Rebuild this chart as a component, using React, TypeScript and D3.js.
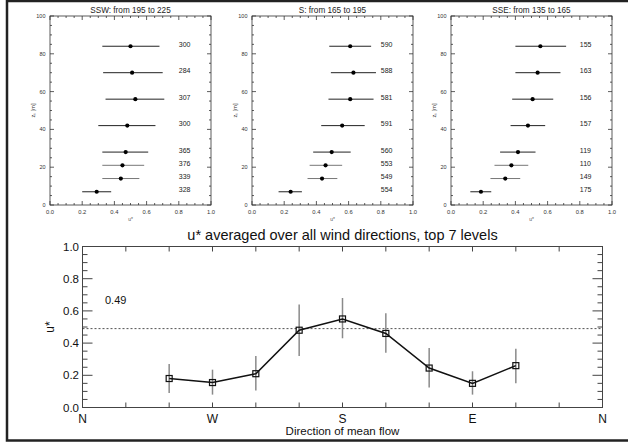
import * as d3 from "d3";
import { useEffect, useRef } from "react";

// measurement heights (m), same for the three sector panels
const heights = [84, 70, 56, 42, 28, 21, 14, 7];

const panelTitles = ["SSW: from 195 to 225", "S: from 165 to 195", "SSE: from 135 to 165"];

const sswMean = [0.5, 0.51, 0.53, 0.48, 0.47, 0.45, 0.44, 0.29];
const sswLow = [0.325, 0.33, 0.345, 0.3, 0.325, 0.325, 0.325, 0.2];
const sswHigh = [0.68, 0.7, 0.71, 0.655, 0.61, 0.585, 0.555, 0.38];
const sswCount = [300, 284, 307, 300, 365, 376, 339, 328];

const sMean = [0.61, 0.63, 0.61, 0.56, 0.495, 0.457, 0.435, 0.24];
const sLow = [0.48, 0.49, 0.475, 0.43, 0.38, 0.358, 0.345, 0.165];
const sHigh = [0.74, 0.77, 0.755, 0.7, 0.613, 0.56, 0.53, 0.31];
const sCount = [590, 588, 581, 591, 560, 553, 549, 554];

const sseMean = [0.555, 0.538, 0.507, 0.478, 0.416, 0.375, 0.337, 0.186];
const sseLow = [0.4, 0.4, 0.38, 0.37, 0.305, 0.27, 0.245, 0.12];
const sseHigh = [0.715, 0.68, 0.635, 0.585, 0.525, 0.48, 0.43, 0.25];
const sseCount = [155, 163, 156, 157, 119, 110, 149, 175];

// bottom chart: direction of mean flow (deg) and u*
const flowDir = [300, 270, 240, 210, 180, 150, 120, 90, 60];
const uMean = [0.18, 0.155, 0.21, 0.48, 0.55, 0.46, 0.245, 0.15, 0.26];
const uLow = [0.09, 0.08, 0.105, 0.32, 0.43, 0.34, 0.125, 0.08, 0.15];
const uHigh = [0.27, 0.235, 0.32, 0.64, 0.68, 0.585, 0.37, 0.225, 0.365];
const uAll = 0.49;
const dirTicks = [360, 330, 300, 270, 240, 210, 180, 150, 120, 90, 60, 30, 0];
const dirLabels = { 360: "N", 270: "W", 180: "S", 90: "E", 0: "N" };

const W = 628;
const H = 442;
const FONT = "'Liberation Sans', Arial, Helvetica, sans-serif";

// draws inward ticks on all four sides of a box
function boxTicks(g, x, y, o) {
  const [x0, x1] = x.range();
  const [y0, y1] = y.range();
  const majX = o.xMajor, minX = o.xMinor, majY = o.yMajor, minY = o.yMinor;
  const lines = [];
  minX.forEach((v) => {
    const len = majX.includes(v) ? o.xLen : o.xLen2;
    lines.push([x(v), y0, x(v), y0 - len]);
    lines.push([x(v), y1, x(v), y1 + len]);
  });
  minY.forEach((v) => {
    const len = majY.includes(v) ? o.yLen : o.yLen2;
    lines.push([x0, y(v), x0 + len, y(v)]);
    lines.push([x1, y(v), x1 - len, y(v)]);
  });
  g.append("g")
    .selectAll("line")
    .data(lines)
    .join("line")
    .attr("x1", (d) => d[0])
    .attr("y1", (d) => d[1])
    .attr("x2", (d) => d[2])
    .attr("y2", (d) => d[3])
    .attr("stroke", o.color)
    .attr("stroke-width", o.width);
  g.append("rect")
    .attr("x", x0)
    .attr("y", y1)
    .attr("width", x1 - x0)
    .attr("height", y0 - y1)
    .attr("fill", "none")
    .attr("stroke", o.color)
    .attr("stroke-width", o.width);
}

function App() {
  const ref = useRef(null);

  useEffect(() => {
    const svg = d3.select(ref.current);
    svg.selectAll("*").remove();
    svg.attr("font-family", FONT);

    svg.append("rect").attr("width", W).attr("height", H).attr("fill", "#fff");
    svg
      .append("rect")
      .attr("x", 7)
      .attr("y", 1)
      .attr("width", 660)
      .attr("height", 439.5)
      .attr("fill", "none")
      .attr("stroke", "#222")
      .attr("stroke-width", 2.5);

    // ---------- top panels ----------
    const panels = [
      { mean: sswMean, low: sswLow, high: sswHigh, count: sswCount },
      { mean: sMean, low: sLow, high: sHigh, count: sCount },
      { mean: sseMean, low: sseLow, high: sseHigh, count: sseCount },
    ];
    const panelLeft = [50, 252, 451];
    const pw = 161;

    panels.forEach((p, k) => {
      const g = svg.append("g");
      const x = d3.scaleLinear().domain([0, 1]).range([panelLeft[k], panelLeft[k] + pw]);
      const y = d3.scaleLinear().domain([0, 100]).range([205, 16]);

      boxTicks(g, x, y, {
        xMajor: d3.range(0, 1.01, 0.2).map((v) => +v.toFixed(2)),
        xMinor: d3.range(0, 1.01, 0.05).map((v) => +v.toFixed(2)),
        yMajor: d3.range(0, 101, 20),
        yMinor: d3.range(0, 101, 5),
        xLen: 4,
        xLen2: 2,
        yLen: 4,
        yLen2: 2,
        color: "#333",
        width: 0.8,
      });

      g.append("g")
        .selectAll("text")
        .data(d3.range(0, 1.01, 0.2))
        .join("text")
        .attr("x", (d) => x(d))
        .attr("y", 213.5)
        .attr("text-anchor", "middle")
        .attr("font-size", 5.8)
        .attr("fill", "#333")
        .text((d) => d3.format(".1f")(d));

      g.append("g")
        .selectAll("text")
        .data(d3.range(0, 101, 20))
        .join("text")
        .attr("x", x(0) - 4.5)
        .attr("y", (d) => y(d) + 2)
        .attr("text-anchor", "end")
        .attr("font-size", 5.5)
        .attr("fill", "#333")
        .text((d) => d);

      g.append("text")
        .attr("x", (x(0) + x(1)) / 2)
        .attr("y", 13)
        .attr("text-anchor", "middle")
        .attr("font-size", 8.2)
        .attr("fill", "#222")
        .text(panelTitles[k]);

      g.append("text")
        .attr("transform", `translate(${x(0) - 15},${(y(0) + y(100)) / 2}) rotate(-90)`)
        .attr("text-anchor", "middle")
        .attr("font-size", 5.5)
        .attr("fill", "#333")
        .text("z\u209b [m]");

      g.append("text")
        .attr("x", (x(0) + x(1)) / 2)
        .attr("y", 221)
        .attr("text-anchor", "middle")
        .attr("font-size", 5)
        .attr("fill", "#555")
        .text("u*");

      g.append("g")
        .selectAll("line")
        .data(heights)
        .join("line")
        .attr("x1", (d, i) => x(p.low[i]))
        .attr("x2", (d, i) => x(p.high[i]))
        .attr("y1", (d) => y(d))
        .attr("y2", (d) => y(d))
        .attr("stroke", (d, i) => (i === 5 || i === 6 ? "#777" : "#222"))
        .attr("stroke-width", 1);

      g.append("g")
        .selectAll("circle")
        .data(heights)
        .join("circle")
        .attr("cx", (d, i) => x(p.mean[i]))
        .attr("cy", (d) => y(d))
        .attr("r", 2.1)
        .attr("fill", "#000");

      g.append("g")
        .selectAll("text")
        .data(heights)
        .join("text")
        .attr("x", x(0.8))
        .attr("y", (d) => y(d) + 0.5)
        .attr("font-size", 7)
        .attr("fill", "#222")
        .text((d, i) => p.count[i]);
    });

    // ---------- bottom chart ----------
    const x = d3.scaleLinear().domain([360, 0]).range([82.5, 602.5]);
    const y = d3.scaleLinear().domain([0, 1]).range([407.5, 246.5]);
    const g = svg.append("g");

    boxTicks(g, x, y, {
      xMajor: dirTicks,
      xMinor: dirTicks,
      yMajor: d3.range(0, 1.01, 0.2).map((v) => +v.toFixed(2)),
      yMinor: d3.range(0, 1.01, 0.05).map((v) => +v.toFixed(2)),
      xLen: 5,
      xLen2: 5,
      yLen: 10,
      yLen2: 5,
      color: "#444",
      width: 1,
    });

    g.append("g")
      .selectAll("text")
      .data(d3.range(0, 1.01, 0.2))
      .join("text")
      .attr("x", x(360) - 3.5)
      .attr("y", (d) => y(d) + 4)
      .attr("text-anchor", "end")
      .attr("font-size", 11.5)
      .attr("fill", "#111")
      .text((d) => d3.format(".1f")(d));

    g.append("g")
      .selectAll("text")
      .data(dirTicks.filter((d) => dirLabels[d]))
      .join("text")
      .attr("x", (d) => x(d))
      .attr("y", 422.6)
      .attr("text-anchor", "middle")
      .attr("font-size", 12)
      .attr("fill", "#111")
      .text((d) => dirLabels[d]);

    g.append("text")
      .attr("x", (x(360) + x(0)) / 2)
      .attr("y", 435)
      .attr("text-anchor", "middle")
      .attr("font-size", 11.5)
      .attr("fill", "#111")
      .text("Direction of mean flow");

    g.append("text")
      .attr("x", (x(360) + x(0)) / 2)
      .attr("y", 239.5)
      .attr("text-anchor", "middle")
      .attr("font-size", 14.5)
      .attr("fill", "#111")
      .text("u* averaged over all wind directions, top 7 levels");

    g.append("text")
      .attr("transform", `translate(54,${(y(0) + y(1)) / 2}) rotate(-90)`)
      .attr("text-anchor", "middle")
      .attr("font-size", 12)
      .attr("fill", "#111")
      .text("u*");

    g.append("line")
      .attr("x1", x(360))
      .attr("x2", x(0))
      .attr("y1", y(uAll))
      .attr("y2", y(uAll))
      .attr("stroke", "#222")
      .attr("stroke-width", 0.8)
      .attr("stroke-dasharray", "2,2");

    g.append("text")
      .attr("x", 105)
      .attr("y", 303.5)
      .attr("font-size", 11)
      .attr("fill", "#111")
      .text(d3.format(".2f")(uAll));

    g.append("g")
      .selectAll("line")
      .data(flowDir)
      .join("line")
      .attr("x1", (d) => x(d))
      .attr("x2", (d) => x(d))
      .attr("y1", (d, i) => y(uLow[i]))
      .attr("y2", (d, i) => y(uHigh[i]))
      .attr("stroke", "#8a8a8a")
      .attr("stroke-width", 1.5);

    const line = d3
      .line()
      .x((d, i) => x(flowDir[i]))
      .y((d) => y(d));

    g.append("path")
      .datum(uMean)
      .attr("d", line)
      .attr("fill", "none")
      .attr("stroke", "#111")
      .attr("stroke-width", 1.5);

    g.append("g")
      .selectAll("rect")
      .data(flowDir)
      .join("rect")
      .attr("x", (d) => x(d) - 3)
      .attr("y", (d, i) => y(uMean[i]) - 3)
      .attr("width", 6)
      .attr("height", 6)
      .attr("fill", "none")
      .attr("stroke", "#111")
      .attr("stroke-width", 1.2);
  }, []);

  return (
    <svg
      ref={ref}
      width={W}
      height={H}
      style={{ position: "absolute", left: 0, top: 0, display: "block" }}
    />
  );
}

export default App;
